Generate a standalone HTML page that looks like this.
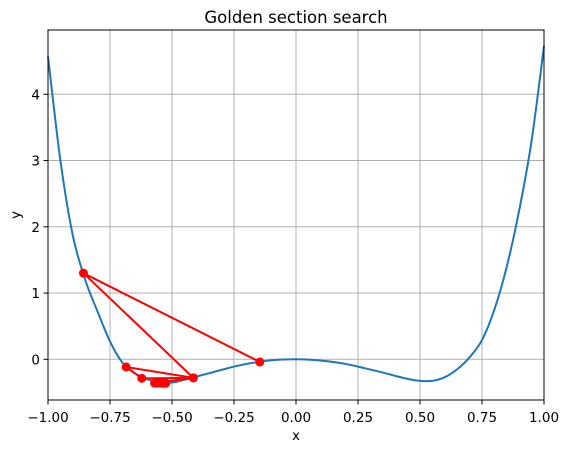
<!DOCTYPE html>
<html><head><meta charset="utf-8">
<style>
body{margin:0;background:#fff;}
svg{display:block;font-family:"DejaVu Sans","Liberation Sans",sans-serif;}
</style></head>
<body>
<svg id="chart" width="569" height="453" viewBox="0 0 569 453">
<rect width="569" height="453" fill="#fff"/>
<g id="grid"></g>
<g id="curve"></g>
<g id="search"></g>
<rect x="48" y="30" width="496" height="370" fill="none" stroke="#000" stroke-width="1"/>
<g id="ticks"></g>
<text x="296" y="23" text-anchor="middle" font-size="16.5">Golden section search</text>
<text x="296" y="440" text-anchor="middle" font-size="13.5">x</text>
<text x="20" y="215" text-anchor="middle" font-size="13.5" transform="rotate(-90 20 215)">y</text>
</svg>
<script>
const curveX=[-1,-0.95,-0.9,-0.85,-0.8,-0.75,-0.7,-0.65,-0.6,-0.55,-0.5,-0.45,-0.4,-0.35,-0.3,-0.25,-0.2,-0.15,-0.1,-0.05,0,0.05,0.1,0.15,0.2,0.25,0.3,0.35,0.4,0.45,0.5,0.55,0.6,0.65,0.7,0.75,0.8,0.85,0.9,0.95,1];
const curveY=[4.57,3.0,1.87,1.2,0.72,0.27,-0.05,-0.21,-0.3,-0.35,-0.35,-0.31,-0.26,-0.21,-0.16,-0.11,-0.07,-0.04,-0.015,-0.003,0,-0.005,-0.02,-0.04,-0.07,-0.11,-0.155,-0.2,-0.25,-0.295,-0.325,-0.325,-0.27,-0.15,0.03,0.29,0.75,1.4,2.25,3.3,4.73];
const searchX=[-0.146,-0.857,-0.414,-0.685,-0.622,-0.414,-0.57,-0.555,-0.54,-0.53,-0.525];
const searchY=[-0.04,1.3,-0.28,-0.116,-0.287,-0.28,-0.36,-0.36,-0.362,-0.362,-0.36];
const xTicks=[-1,-0.75,-0.5,-0.25,0,0.25,0.5,0.75,1];
const xTickLabels=["\u22121.00","\u22120.75","\u22120.50","\u22120.25","0.00","0.25","0.50","0.75","1.00"];
const yTicks=[0,1,2,3,4];
const yTickLabels=["0","1","2","3","4"];
const NS="http://www.w3.org/2000/svg";
const xs=v=>48+(v+1)/2*496;
const ys=v=>359.3-v*66.25;
function mk(tag,attrs,parent){const e=document.createElementNS(NS,tag);for(const k in attrs)e.setAttribute(k,attrs[k]);parent.appendChild(e);return e;}
const grid=document.getElementById('grid'),ticks=document.getElementById('ticks');
xTicks.forEach((t,i)=>{
 const l=mk('line',{x1:xs(t),x2:xs(t),y1:30,y2:400,stroke:'#b0b0b0','stroke-width':1},grid);
 
 
 const tk=mk('line',{x1:xs(t),x2:xs(t),y1:400,y2:404.5,stroke:'#000','stroke-width':1},ticks);
 
 
 const tx=mk('text',{x:xs(t),y:422,'text-anchor':'middle','font-size':13.5},ticks);
 tx.textContent=xTickLabels[i];
 
 
});
yTicks.forEach((t,i)=>{
 const l=mk('line',{x1:48,x2:544,y1:ys(t),y2:ys(t),stroke:'#b0b0b0','stroke-width':1},grid);
 
 
 const tk=mk('line',{x1:43.5,x2:48,y1:ys(t),y2:ys(t),stroke:'#000','stroke-width':1},ticks);
 
 
 const tx=mk('text',{x:40,y:ys(t)+5,'text-anchor':'end','font-size':13.5},ticks);
 tx.textContent=yTickLabels[i];
 
 
});
const P=curveX.map((x,i)=>[xs(x),ys(curveY[i])]);
let d='M'+P[0][0]+','+P[0][1];
for(let i=0;i<P.length-1;i++){
 const p0=P[Math.max(i-1,0)],p1=P[i],p2=P[i+1],p3=P[Math.min(i+2,P.length-1)];
 const c1=[p1[0]+(p2[0]-p0[0])/6,p1[1]+(p2[1]-p0[1])/6];
 const c2=[p2[0]-(p3[0]-p1[0])/6,p2[1]-(p3[1]-p1[1])/6];
 d+=`C${c1[0]},${c1[1]} ${c2[0]},${c2[1]} ${p2[0]},${p2[1]}`;
}
const cp=mk('path',{d:d,fill:'none',stroke:'#1f77b4','stroke-width':2},document.getElementById('curve'));


const sg=document.getElementById('search');
const pl=mk('polyline',{points:searchX.map((x,i)=>xs(x)+','+ys(searchY[i])).join(' '),fill:'none',stroke:'#ff0000','stroke-width':2,'stroke-linejoin':'round'},sg);


searchX.forEach((x,i)=>{
 const c=mk('circle',{cx:xs(x),cy:ys(searchY[i]),r:4.5,fill:'#ff0000'},sg);
 
 
});
</script>
</body></html>
